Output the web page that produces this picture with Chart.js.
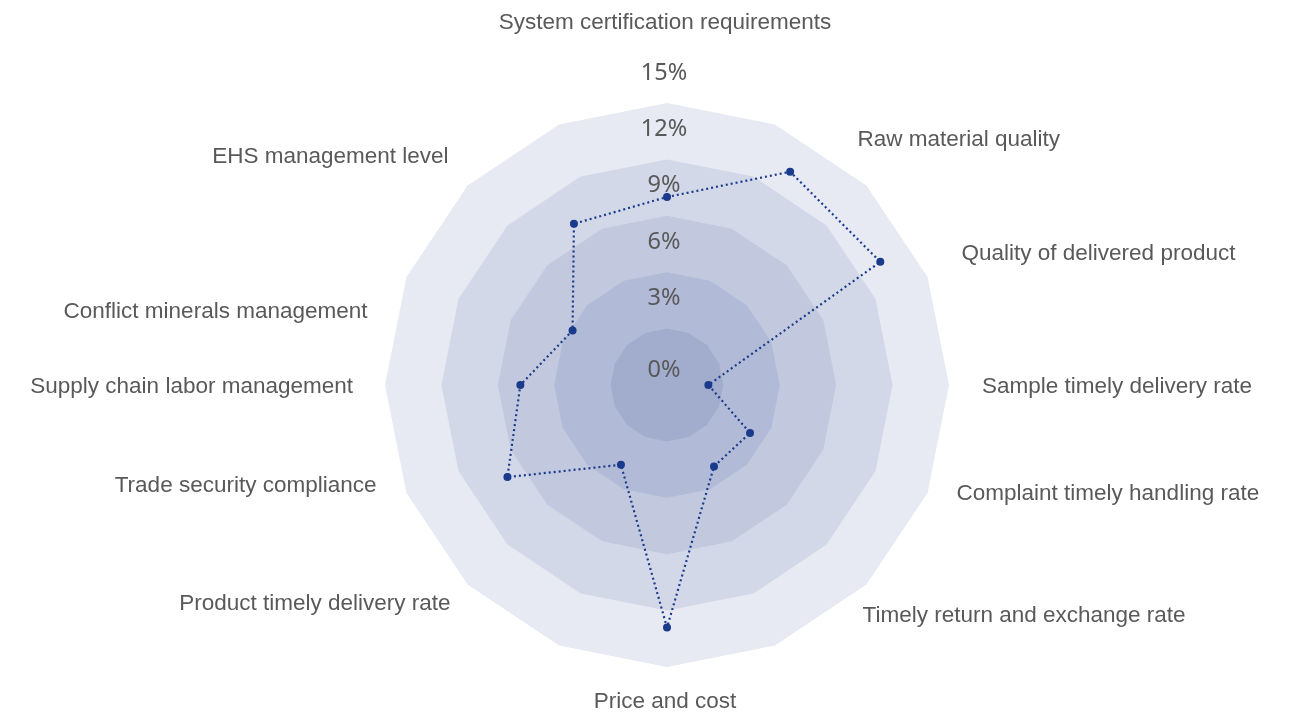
<!DOCTYPE html>
<html>
<head>
<meta charset="utf-8">
<script src="https://cdn.jsdelivr.net/npm/chart.js@4.4.1/dist/chart.umd.min.js"></script>
<style>
  html, body { margin: 0; padding: 0; background: #fff; }
  #wrap { width: 1293px; height: 719px; position: relative; }
</style>
</head>
<body>
<div id="wrap"><canvas id="radar"></canvas></div>
<script>
/* ---------- Data ---------- */
const categories = [
  'System certification requirements',
  'Raw material quality',
  'Quality of delivered product',
  'Sample timely delivery rate',
  'Complaint timely handling rate',
  'Timely return and exchange rate',
  'Price and cost',
  'Product timely delivery rate',
  'Trade security compliance',
  'Supply chain labor management',
  'Conflict minerals management',
  'EHS management level',
];
const scores = [10.0, 13.1, 13.1, 2.2, 5.1, 5.0, 12.9, 4.9, 9.8, 7.8, 5.8, 9.9];
const tickValues = [0, 3, 6, 9, 12, 15];
const tickLabels = ['0%', '3%', '6%', '9%', '12%', '15%'];

/* ---------- Look ---------- */
const bandColors = ['#a2adcd', '#b1bad6', '#c2c9df', '#d3d8e8', '#e7e9f3']; // inner -> outer
const bandSides = 16;
const lineColor = '#1a3a8b';
const textColor = '#595959';
const labelFont = '22.5px "Liberation Sans", Arial, sans-serif';
const tickFont = '23.5px "Noto Sans", "Open Sans", sans-serif';
const labelGap = 35;
// hand layout of the category names around the web: [dx, dy] from the radial anchor
const labelNudge = [
  [-2, -45], [32, 29], [20, 27], [-2, 2], [15, -50], [37, -44],
  [-2, 0], [-58, -56], [-16, -58], [3, 2], [-25, 85], [-60, 46],
];

/* ---------- Plugins ---------- */
const bandsPlugin = {
  id: 'bands',
  beforeDraw(chart) {
    const s = chart.scales.r;
    const ctx = chart.ctx;
    ctx.save();
    for (let k = bandColors.length - 1; k >= 0; k--) {
      const r = s.getDistanceFromCenterForValue(tickValues[k + 1]);
      ctx.beginPath();
      for (let j = 0; j < bandSides; j++) {
        const p = s.getPointPosition(0, r, j * 2 * Math.PI / bandSides);
        if (j === 0) ctx.moveTo(p.x, p.y); else ctx.lineTo(p.x, p.y);
      }
      ctx.closePath();
      ctx.fillStyle = bandColors[k];
      ctx.fill();
    }
    ctx.restore();
  },
  beforeDatasetsDraw(chart) {
    const s = chart.scales.r;
    const ctx = chart.ctx;
    ctx.save();
    // value ticks, sitting just above each ring
    ctx.font = tickFont;
    ctx.fillStyle = textColor;
    ctx.textAlign = 'center';
    ctx.textBaseline = 'middle';
    tickValues.forEach((v, i) => {
      const y = s.yCenter - s.getDistanceFromCenterForValue(v) - (v === 0 ? 15 : 30);
      ctx.fillText(tickLabels[i], s.xCenter - 3, y);
    });
    // category names
    ctx.font = labelFont;
    categories.forEach((name, i) => {
      const p = s.getPointPosition(i, s.drawingArea + labelGap);
      const dx = p.x - s.xCenter;
      ctx.textAlign = Math.abs(dx) < 1 ? 'center' : (dx > 0 ? 'left' : 'right');
      ctx.fillText(name, p.x + labelNudge[i][0], p.y + labelNudge[i][1]);
    });
    ctx.restore();
  },
};

/* ---------- Chart ---------- */
new Chart(document.getElementById('radar'), {
  type: 'radar',
  data: {
    labels: categories,
    datasets: [{
      label: 'Score',
      data: scores,
      fill: false,
      borderColor: lineColor,
      borderWidth: 2.2,
      borderDash: [2, 3],
      pointRadius: 4,
      pointBorderWidth: 0,
      pointBackgroundColor: lineColor,
      pointHoverRadius: 4,
      tension: 0,
    }],
  },
  options: {
    responsive: true,
    maintainAspectRatio: false,
    animation: false,
    layout: { padding: { left: 42, right: 0, top: 103, bottom: 52 } },
    plugins: { legend: { display: false }, tooltip: { enabled: false } },
    scales: {
      r: {
        min: 0,
        max: 15,
        ticks: { display: false, stepSize: 3 },
        grid: { display: false },
        angleLines: { display: false },
        pointLabels: { display: false },
      },
    },
  },
  plugins: [bandsPlugin],
});
</script>
</body>
</html>
